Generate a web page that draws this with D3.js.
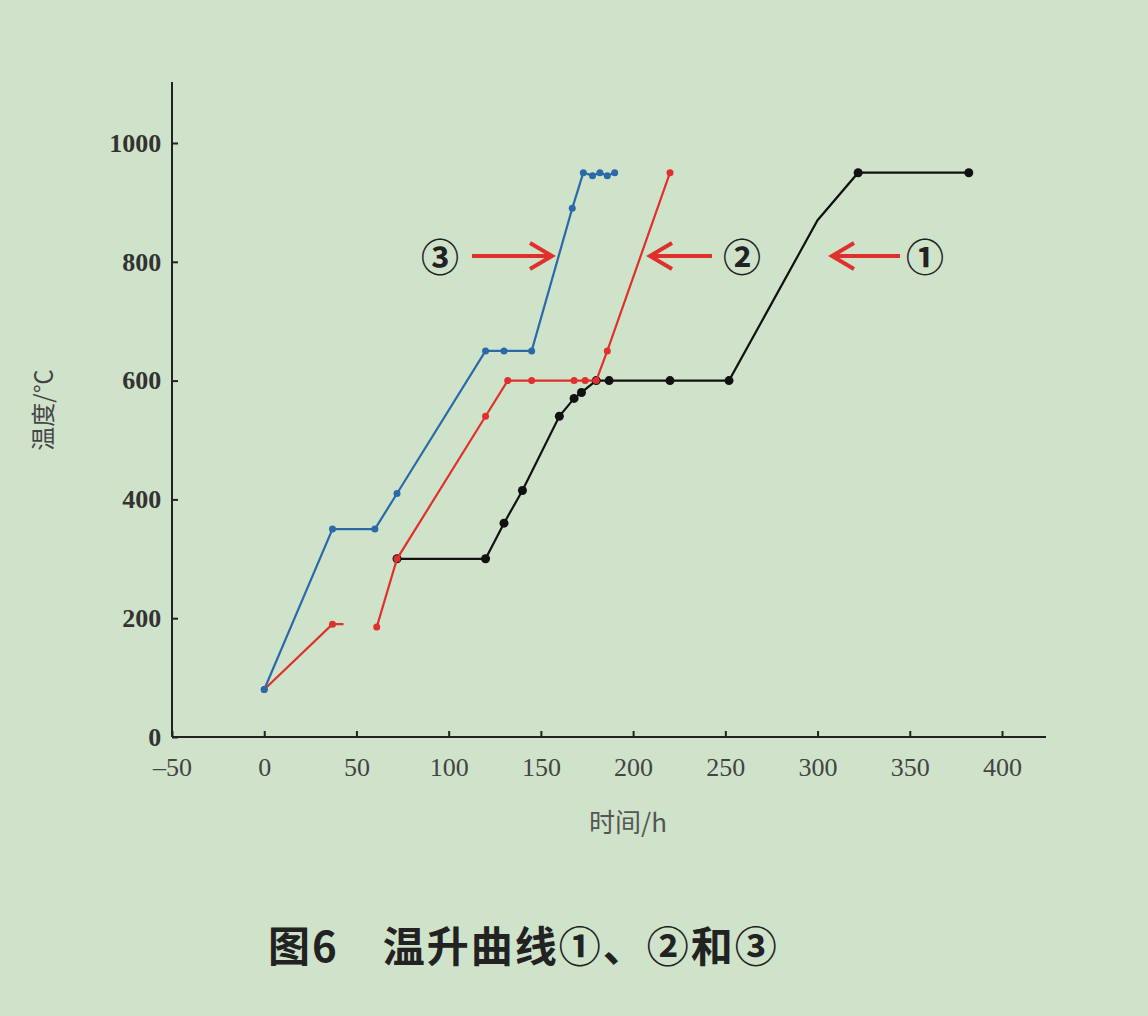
<!DOCTYPE html>
<html><head><meta charset="utf-8">
<script src="https://cdn.jsdelivr.net/npm/d3@7"></script>
<style>body{margin:0;background:#cfe3cb;}</style>
</head><body><svg></svg>
<script>
// data: [time h, temperature °C]
const curve1 = [[72,300],[120,300],[130,360],[140,415],[160,540],[168,570],[172,580],[180,600],[187,600],[220,600],[252,600],[300,870],[322,950],[382,950]];
const curve2a = [[0,80],[37,190],[43,190]];
const curve2b = [[61,185],[72,300],[120,540],[132,600],[145,600],[168,600],[174,600],[180,600],[186,650],[220,950]];
const curve3 = [[0,80],[37,350],[60,350],[72,410],[120,650],[130,650],[145,650],[167,890],[173,950],[178,945],[182,950],[186,945],[190,950]];
const xTicks = [-50,0,50,100,150,200,250,300,350,400];
const yTicks = [0,200,400,600,800,1000];

const svg = d3.select("svg").attr("width",1148).attr("height",1016);
const x = d3.scaleLinear().domain([-50,400]).range([172,1002]);
const y = d3.scaleLinear().domain([0,1000]).range([737,143]);
const serif = "'Liberation Serif','DejaVu Serif',serif";

// axes
const xa = svg.append("g").attr("transform","translate(0,737)")
  .call(d3.axisBottom(x).tickValues(xTicks).tickSize(-6).tickSizeOuter(0).tickFormat(d=>d<0?"\u201350":d));
xa.select(".domain").attr("d","M172,0H1046");
const ya = svg.append("g").attr("transform","translate(172,0)")
  .call(d3.axisLeft(y).tickValues(yTicks).tickSize(-6).tickSizeOuter(0).tickFormat(d3.format("d")));
ya.select(".domain").attr("d","M0,82V737");
svg.selectAll(".domain,.tick line").attr("stroke","#222").attr("stroke-width",2);
xa.selectAll("text").attr("dy","1.4em").attr("font-family",serif).attr("font-size",26).attr("fill","#444");
ya.selectAll("text").attr("dx","-0.3em").attr("font-family",serif).attr("font-size",26).attr("font-weight","bold").attr("fill","#333");

svg.append("text").attr("x",628).attr("y",832).attr("text-anchor","middle")
  .attr("font-family","'Noto Sans CJK SC'").attr("font-size",26).attr("fill","#555").text("时间/h");
svg.append("text").attr("transform","translate(52,410) rotate(-90)").attr("text-anchor","middle")
  .attr("font-family","'Noto Sans CJK SC'").attr("font-size",24).attr("fill","#444").text("温度/℃");

const line = d3.line().x(d=>x(d[0])).y(d=>y(d[1]));
function draw(data,color,r,skip){
  svg.append("path").datum(data).attr("d",line).attr("fill","none").attr("stroke",color).attr("stroke-width",2.2);
  svg.append("g").selectAll("circle").data(data.filter((d,i)=>!(skip||[]).includes(i))).join("circle")
    .attr("cx",d=>x(d[0])).attr("cy",d=>y(d[1])).attr("r",r).attr("fill",color);
}
draw(curve1,"#111",4.5,[11]);
draw(curve2a,"#e0302b",3.5,[2]);
draw(curve2b,"#e0302b",3.5);
draw(curve3,"#2a6aa8",3.5);

// labels with arrows
const ann = [
  {t:"③",tx:440,ax1:472,ax2:552,dir:1},
  {t:"②",tx:742,ax1:712,ax2:650,dir:-1},
  {t:"①",tx:925,ax1:900,ax2:832,dir:-1}
];
ann.forEach(a=>{
  svg.append("text").attr("x",a.tx).attr("y",271).attr("text-anchor","middle")
    .attr("font-family","'Noto Sans CJK SC'").attr("font-size",38).attr("font-weight","bold").attr("fill","#222").text(a.t);
  svg.append("line").attr("x1",a.ax1).attr("x2",a.ax2).attr("y1",256).attr("y2",256).attr("stroke","#e0302b").attr("stroke-width",4);
  svg.append("path").attr("d",`M${a.ax2-a.dir*22},${243}L${a.ax2},256L${a.ax2-a.dir*22},${269}`)
    .attr("fill","none").attr("stroke","#e0302b").attr("stroke-width",4);
});

svg.append("text").attr("x",268).attr("y",962).attr("font-family","'Noto Sans CJK SC'")
  .attr("font-size",42).attr("font-weight","bold").attr("letter-spacing",2).attr("fill","#222").text("图6\u3000温升曲线①、②和③");
</script></body></html>
